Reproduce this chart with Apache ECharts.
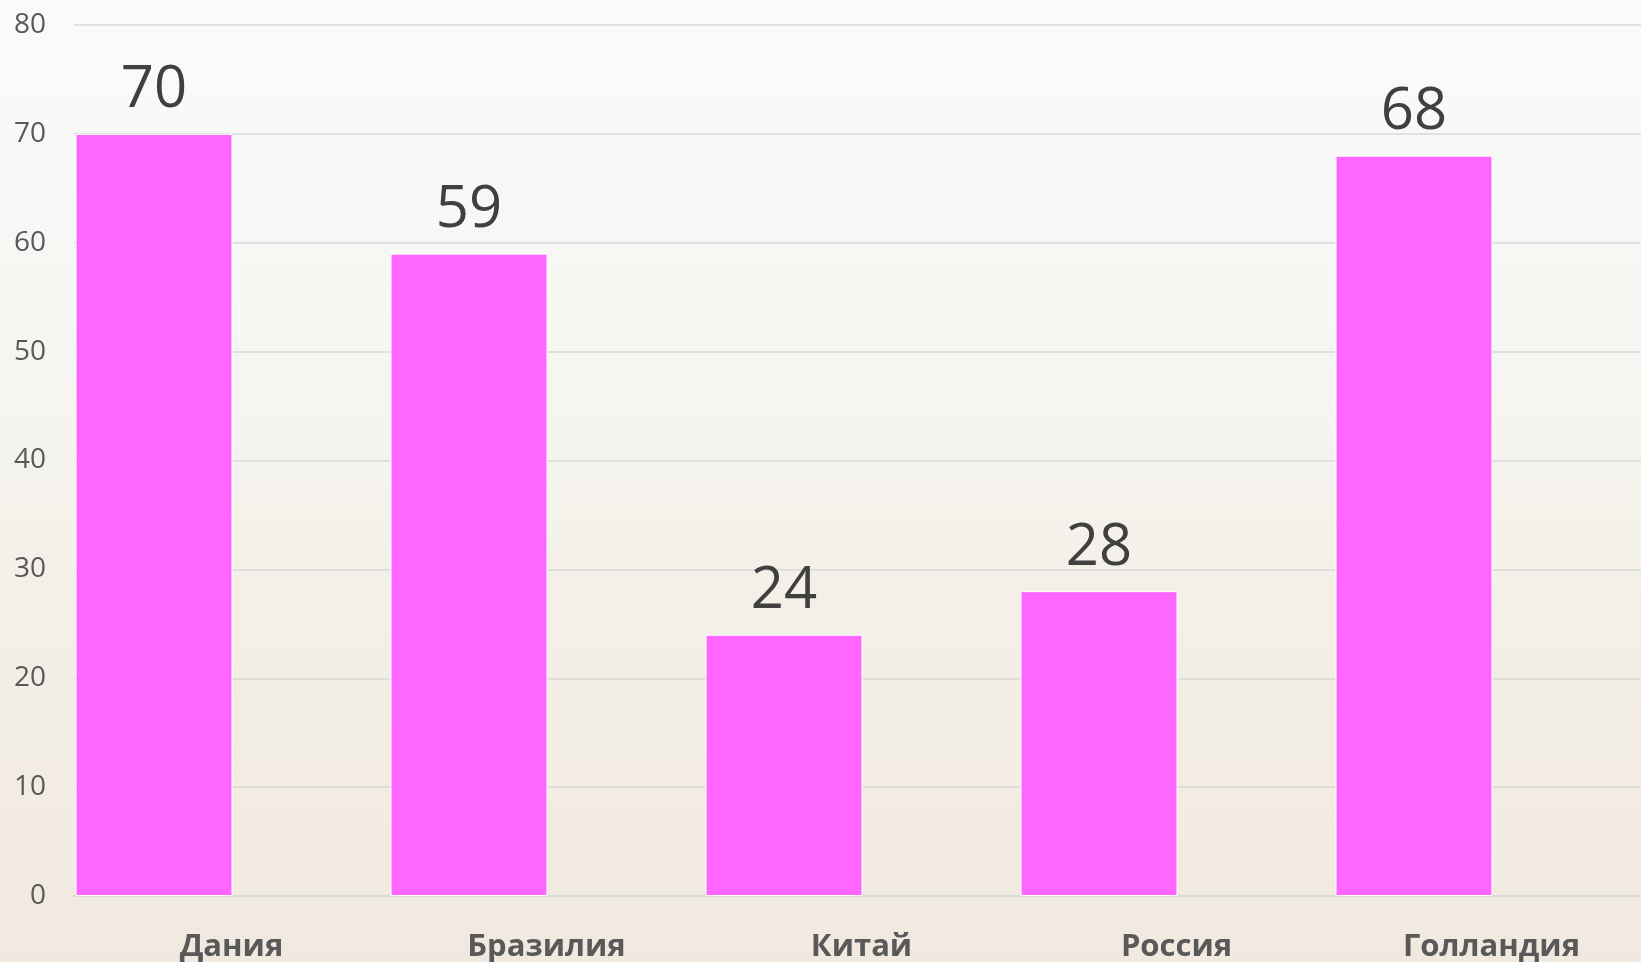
<!DOCTYPE html>
<html>
<head>
<meta charset="utf-8">
<script src="https://cdn.jsdelivr.net/npm/echarts@6/dist/echarts.min.js"></script>
<style>
  html, body { margin: 0; padding: 0; }
  #chart {
    width: 1641px;
    height: 962px;
    background: linear-gradient(180deg, #f9fbfb 0%, #f6f6f2 35%, #f3eee5 70%, #f1e9df 100%);
  }
</style>
</head>
<body>
<div id="chart"></div>
<script>
const categories = ['Дания', 'Бразилия', 'Китай', 'Россия', 'Голландия'];
const values = [70, 59, 24, 28, 68];
const yTicks = { min: 0, max: 80, interval: 10 };

const chart = echarts.init(document.getElementById('chart'));

chart.setOption({
  animation: false,
  grid: {
    left: 74,
    top: 25,
    width: 1575,
    bottom: 66,
    outerBoundsMode: 'none',
  },
  xAxis: {
    type: 'category',
    data: categories,
    axisLine: { lineStyle: { color: '#d9d9d9', width: 2 } },
    axisTick: { show: false },
    axisLabel: {
      color: '#595959',
      fontFamily: 'Open Sans',
      fontWeight: 'bold',
      fontSize: 31,
      margin: 36,
    },
  },
  yAxis: {
    type: 'value',
    min: yTicks.min,
    max: yTicks.max,
    interval: yTicks.interval,
    axisLine: { show: false },
    axisTick: { show: false },
    splitLine: { lineStyle: { color: '#d9d9d9', width: 1.5 } },
    axisLabel: {
      color: '#595959',
      fontFamily: 'Open Sans',
      fontSize: 28,
      margin: 28,
    },
  },
  series: [
    {
      type: 'bar',
      data: values,
      barWidth: 157,
      barGap: 0,
      itemStyle: { color: '#ff66ff', borderColor: '#ffffff', borderWidth: 1 },
      label: {
        show: true,
        position: 'top',
        distance: 14,
        color: '#404040',
        fontFamily: 'Open Sans',
        fontSize: 58,
      },
    },
    {
      // empty spacer: keeps the bars in the left half of each category
      type: 'bar',
      data: [],
      barWidth: 155,
      barGap: 0,
    },
  ],
});
</script>
</body>
</html>
